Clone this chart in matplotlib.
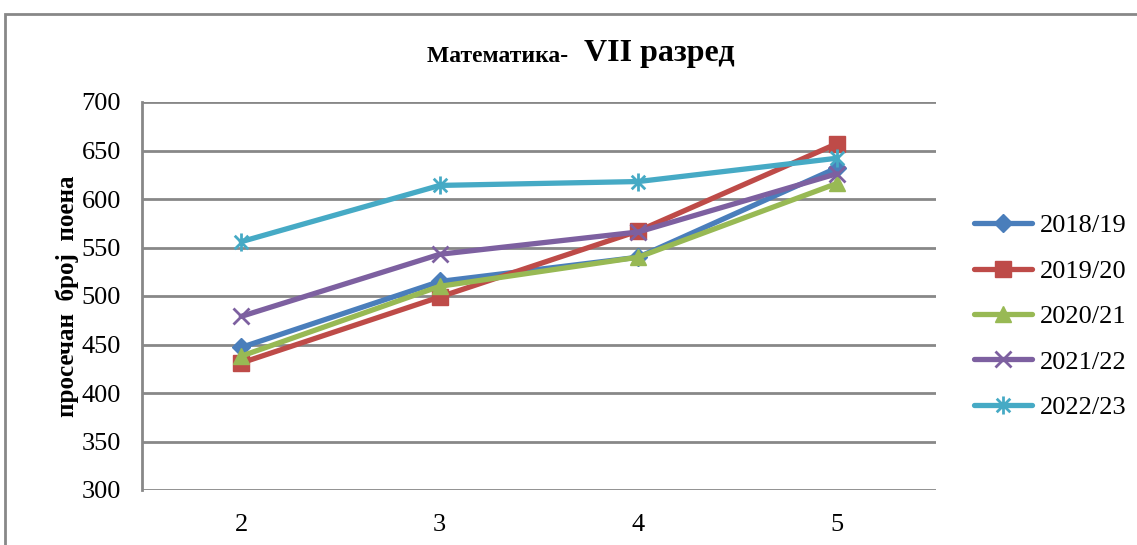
import matplotlib
matplotlib.use("Agg")
import matplotlib.pyplot as plt
import numpy as np
from matplotlib.path import Path
from matplotlib.patches import Rectangle

categories = ["2", "3", "4", "5"]
series_names = ["2018/19", "2019/20", "2020/21", "2021/22", "2022/23"]
v2018 = [447, 515, 540, 632]
v2019 = [431, 499, 567, 657]
v2020 = [438, 510, 540, 616]
v2021 = [479, 543, 566, 626]
v2022 = [556, 614, 618, 642]
yticks = [300, 350, 400, 450, 500, 550, 600, 650, 700]

colors = ["#4A7EBB", "#BE4B48", "#98B954", "#7D60A0", "#46AAC5"]

star = Path([(0, -1), (0, 1), (-0.75, -0.75), (0.75, 0.75), (-0.75, 0.75), (0.75, -0.75)],
            [Path.MOVETO, Path.LINETO, Path.MOVETO, Path.LINETO, Path.MOVETO, Path.LINETO])
markers = ["D", "s", "^", "x", star]
msizes = [9, 11, 11, 12, 13]

plt.rcParams['font.family'] = ['Liberation Serif', 'DejaVu Serif']

fig = plt.figure(figsize=(11.37, 5.45), dpi=100)
fig.patches.append(Rectangle((5/1137, -0.1), 1.2, 1 - 14/545 + 0.1, transform=fig.transFigure,
                             fill=False, edgecolor="#888888", lw=2))
ax = fig.add_axes([142/1137, 1 - 490/545, (936 - 142)/1137, (490 - 102)/545])

x = np.arange(len(categories))
data = [v2018, v2019, v2020, v2021, v2022]
for vals, name, c, m, ms in zip(data, series_names, colors, markers, msizes):
    ax.plot(x, vals, color=c, lw=3.8, marker=m, markersize=ms, label=name,
            markeredgecolor=c, markerfacecolor=c,
            markeredgewidth=2 if (isinstance(m, Path) or m == "x") else 1,
            solid_capstyle="round")

ax.set_xlim(-0.5, 3.5)
ax.set_ylim(300, 700)
ax.set_yticks(yticks)
ax.set_xticks(x)
ax.set_xticklabels(categories)
ax.yaxis.grid(True, color="#888888", lw=2)
ax.set_axisbelow(True)
for s in ["top", "right", "bottom"]:
    ax.spines[s].set_visible(False)
ax.spines["left"].set_color("#888888")
ax.spines["left"].set_linewidth(2)
ax.tick_params(axis="y", length=0, pad=15, labelsize=19)
ax.tick_params(axis="x", length=0, pad=17, labelsize=19)

ax.set_ylabel("просечан  број  поена", fontsize=18, fontweight="bold", labelpad=2)

fig.text(580/1137, 1 - 56/545, "Математика-  ", fontsize=17, fontweight="bold", ha="right", va="center")
fig.text(584/1137, 1 - 54/545, "VII разред", fontsize=23, fontweight="bold", ha="left", va="center")

leg = fig.legend(loc="upper left", bbox_to_anchor=(966/1137, 1 - 206/545), frameon=False,
                 fontsize=19, handlelength=2.2, labelspacing=0.83, handletextpad=0.3,
                 borderaxespad=0, borderpad=0.3)

fig.savefig("out.png", dpi=100)
